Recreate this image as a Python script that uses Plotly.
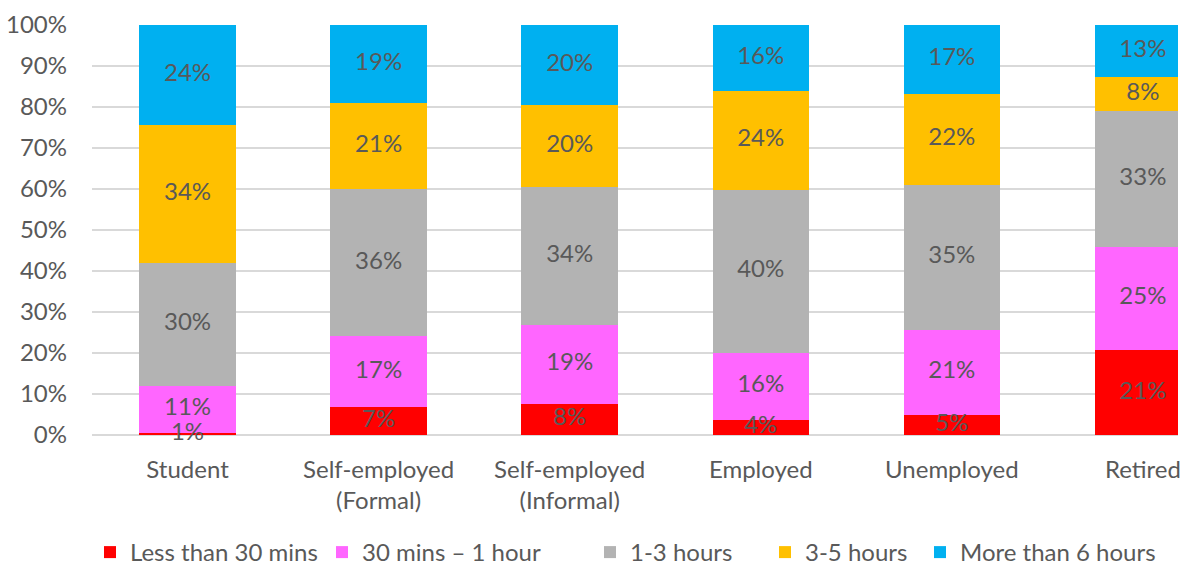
import plotly.graph_objects as go

categories = ["Student", "Self-employed<br>(Formal)", "Self-employed<br>(Informal)",
              "Employed", "Unemployed", "Retired"]
series_names = ["Less than 30 mins", "30 mins – 1 hour", "1-3 hours", "3-5 hours", "More than 6 hours"]
less_30 = [0.6, 6.8, 7.6, 3.7, 4.9, 20.7]
min30_1h = [11.4, 17.3, 19.2, 16.3, 20.7, 25.2]
h1_3 = [30.0, 35.9, 33.7, 39.8, 35.4, 33.1]
h3_5 = [33.6, 21.0, 20.0, 24.1, 22.2, 8.4]
more_6 = [24.4, 19.0, 19.5, 16.1, 16.8, 12.6]
colors = ["#FF0000", "#FF66FF", "#B3B3B3", "#FFC000", "#00B0F0"]
yticks = [0, 10, 20, 30, 40, 50, 60, 70, 80, 90, 100]

series = [less_30, min30_1h, h1_3, h3_5, more_6]
xpos = list(range(len(categories)))
FONT = "Lato, Open Sans, sans-serif"
TXT = "#595959"
FS = 24
W, H = 1181, 575
# legend text start positions (px) in the reference
legend_text_px = [130, 362, 630, 805, 960]
legend_names = ["legend", "legend2", "legend3", "legend4", "legend5"]

fig = go.Figure()
base = [0.0] * len(xpos)
label_x, label_y, label_t = [], [], []
for name, vals, col, lg in zip(series_names, series, colors, legend_names):
    fig.add_trace(go.Bar(
        x=xpos, y=vals, name=name, marker=dict(color=col, line=dict(width=0)),
        width=0.505, legend=lg,
    ))
    for i, v in enumerate(vals):
        label_x.append(i)
        label_y.append(base[i] + v / 2)
        label_t.append(f"{round(v):.0f}%")
        base[i] += v

fig.add_trace(go.Scatter(
    x=label_x, y=label_y, text=label_t, mode="text",
    textposition="middle center",
    textfont=dict(family=FONT, size=FS, color=TXT),
    showlegend=False, hoverinfo="skip", cliponaxis=False,
))

legend_common = dict(orientation="h", xref="container", xanchor="left",
                     yref="container", y=0.0, yanchor="bottom",
                     font=dict(family=FONT, size=FS, color=TXT),
                     itemwidth=30, bgcolor="rgba(0,0,0,0)")
legend_layout = {}
for lg, tx in zip(legend_names, legend_text_px):
    legend_layout[lg] = dict(legend_common, x=(tx - 40) / W)

fig.update_layout(
    barmode="stack",
    width=W, height=H,
    margin=dict(l=92, r=0, t=25, b=140),
    plot_bgcolor="white", paper_bgcolor="white",
    font=dict(family=FONT, size=FS, color=TXT),
    showlegend=True,
    **legend_layout,
)
fig.update_xaxes(
    tickvals=xpos, ticktext=categories,
    range=[-0.5, -0.5 + (W - 92) / 191.6],
    showgrid=False, zeroline=False, showline=False, ticks="",
    tickfont=dict(family=FONT, size=FS, color=TXT),
    ticklabelstandoff=18, ticklabeloverflow="allow",
)
fig.update_yaxes(
    range=[0, 100], tickvals=yticks, ticktext=[f"{t}%" for t in yticks],
    showgrid=True, gridcolor="#D9D9D9", gridwidth=1.5,
    zeroline=True, zerolinecolor="#D9D9D9", zerolinewidth=1.5,
    showline=False, ticks="",
    tickfont=dict(family=FONT, size=FS, color=TXT),
    ticklabelstandoff=24,
)
fig.write_html("out.html", config={"displayModeBar": False},
               post_script="document.body.style.margin='0';")
